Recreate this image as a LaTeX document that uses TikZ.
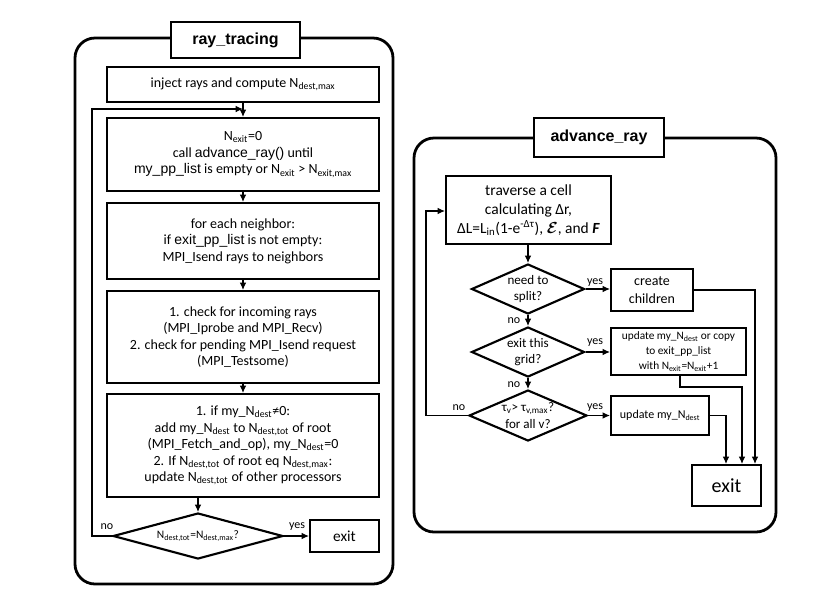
\documentclass[tikz,border=0pt]{standalone}
\usepackage{fontspec}
\usepackage{amsmath,bm}
\setmainfont{Carlito}
\newfontfamily\arialf{Liberation Sans}
\usetikzlibrary{shapes.geometric,arrows.meta}
\newcommand\sbs[1]{\textsubscript{#1}}
\newcommand\sps[1]{\textsuperscript{#1}}
\newcommand\cw[1]{{\arialf #1}}
\begin{document}
\begin{tikzpicture}[x=0.75pt,y=-0.75pt,
  outerbox/.style={draw,line width=2.1pt,rounded corners=15pt},
  titlebox/.style={draw,fill=white,line width=1.6pt,inner sep=0pt,font=\arialf\bfseries\fontsize{12}{14}\selectfont},
  procbox/.style={draw,line width=1.6pt,inner sep=0pt,align=center,font=\fontsize{10.5}{12.4}\selectfont},
  decbox/.style={draw,diamond,line width=1.6pt,inner sep=0pt,align=center,font=\fontsize{9.8}{12.4}\selectfont},
  flow/.style={line width=0.8pt,-{Latex[length=5.5pt,width=5pt]}},
  lbl/.style={font=\fontsize{9}{10}\selectfont,inner sep=0pt}]
\useasboundingbox (0,0) rectangle (831,612);
% ---------- ray_tracing ----------
\draw[outerbox] (75,38) rectangle (393,584);
\node[titlebox,minimum width=129*0.75pt,minimum height=36*0.75pt] (t1) at (235.5,40) {ray\_tracing};
\node[procbox,minimum width=272*0.75pt,minimum height=35*0.75pt] (inj) at (243,84.5) {inject rays and compute N\sbs{dest,max}};
\node[procbox,minimum width=272*0.75pt,minimum height=73*0.75pt] (nex) at (243,154.5) {N\sbs{exit}=0\\call \cw{advance\_ray()} until\\\cw{my\_pp\_list} is empty or N\sbs{exit} {>} N\sbs{exit,max}};
\node[procbox,minimum width=272*0.75pt,minimum height=76*0.75pt] (nbr) at (243,241) {for each neighbor:\\if \cw{exit\_pp\_list} is not empty:\\MPI\_Isend rays to neighbors};
\node[procbox,minimum width=272*0.75pt,minimum height=92*0.75pt] (chk) at (243,337) {1. check for incoming rays\\(MPI\_Iprobe and MPI\_Recv)\\2. check for pending MPI\_Isend request\\(MPI\_Testsome)};
\node[procbox,minimum width=272*0.75pt,minimum height=103*0.75pt] (fet) at (243,445.5) {1. if my\_N\sbs{dest}≠0:\\add my\_N\sbs{dest} to N\sbs{dest,tot} of root\\(MPI\_Fetch\_and\_op), my\_N\sbs{dest}=0\\2. If N\sbs{dest,tot} of root eq N\sbs{dest,max}:\\update N\sbs{dest,tot} of other processors};
\node[decbox,aspect=3.7,minimum width=170*0.75pt,minimum height=46*0.75pt,font=\fontsize{8.6}{10}\selectfont] (dd) at (198,536) {N\sbs{dest,tot}=N\sbs{dest,max}?};
\node[procbox,minimum width=69*0.75pt,minimum height=32*0.75pt,font=\fontsize{11.5}{13}\selectfont] (ex1) at (344.5,536) {exit};
\coordinate (lp1) at (92,536);
\coordinate (lp2) at (92,109);
\coordinate (lp3) at (243,109);
\draw[flow] (inj) -- (nex);
\draw[flow] (nex) -- (nbr);
\draw[flow] (nbr) -- (chk);
\draw[flow] (chk) -- (fet);
\draw[flow] (fet.south -| dd.north) -- (dd.north);
\draw[flow] (dd.east) -- (ex1.west);
\draw[flow] (dd.west) -- (lp1) -- (lp2) -- (lp3);
\node[lbl] (no1) at (107,527) {no};
\node[lbl] (yes1) at (297,527) {yes};
% ---------- advance_ray ----------
\draw[outerbox] (414,138) rectangle (776,532);
\node[titlebox,minimum width=130*0.75pt,minimum height=39*0.75pt] (t2) at (599,137.5) {advance\_ray};
\node[procbox,minimum width=165*0.75pt,minimum height=68*0.75pt,font=\fontsize{11.6}{14.2}\selectfont] (trv) at (528.5,210) {traverse a cell\\calculating Δr,\\ΔL=L\sbs{in}(1-e\sps{-Δτ}), $\bm{\mathcal{E}}$, and \textbf{\textit{F}}};
\node[decbox,aspect=2.26,minimum width=113*0.75pt,minimum height=50*0.75pt] (d1) at (528,289) {need to\\split?};
\node[procbox,minimum width=82*0.75pt,minimum height=42*0.75pt,font=\fontsize{10.5}{13}\selectfont] (chl) at (652,290) {create\\children};
\node[decbox,aspect=2.26,minimum width=113*0.75pt,minimum height=50*0.75pt] (d2) at (528,352) {exit this\\grid?};
\node[procbox,minimum width=135*0.75pt,minimum height=47*0.75pt,font=\fontsize{8.5}{11.5}\selectfont] (upd) at (678.5,351.5) {update my\_N\sbs{dest} or copy\\to exit\_pp\_list\\with N\sbs{exit}=N\sbs{exit}+1};
\node[decbox,aspect=2.31,minimum width=118*0.75pt,minimum height=51*0.75pt] (d3) at (528,415.5) {τ\sbs{v}> τ\sbs{v,max}?\\for all v?};
\node[procbox,minimum width=98*0.75pt,minimum height=39*0.75pt,font=\fontsize{9}{11}\selectfont] (udn) at (660,415.5) {update my\_N\sbs{dest}};
\node[procbox,minimum width=69*0.75pt,minimum height=41*0.75pt,font=\fontsize{15}{17}\selectfont] (ex2) at (726.5,485.5) {exit};
\coordinate (c1) at (755,290);
\coordinate (c2) at (680,387);
\coordinate (c3) at (742,387);
\coordinate (c4) at (726,415.5);
\coordinate (l1) at (426,415.5);
\coordinate (l2) at (426,211);
\draw[flow] (trv.south -| d1.north) -- (d1.north);
\draw[flow] (d1) -- (d2);
\draw[flow] (d2) -- (d3);
\draw[flow] (d1.east) -- (chl.west |- d1.east);
\draw[flow] (d2.east) -- (upd.west |- d2.east);
\draw[flow] (d3.east) -- (udn.west);
\draw[flow] (chl.east |- c1) -- (c1) -- (c1 |- ex2.north);
\draw[flow] (upd.south -| c2) -- (c2) -- (c3) -- (c3 |- ex2.north);
\draw[flow] (udn.east) -- (c4) -- (c4 |- ex2.north);
\draw[flow] (d3.west) -- (l1) -- (l2) -- (trv.west |- l2);
\node[lbl] (y2) at (595,283) {yes};
\node[lbl] (y3) at (595,343) {yes};
\node[lbl] (y4) at (595,408) {yes};
\node[lbl] (n2) at (514,321) {no};
\node[lbl] (n3) at (514,385) {no};
\node[lbl] (n4) at (459,408) {no};
\end{tikzpicture}
\end{document}
